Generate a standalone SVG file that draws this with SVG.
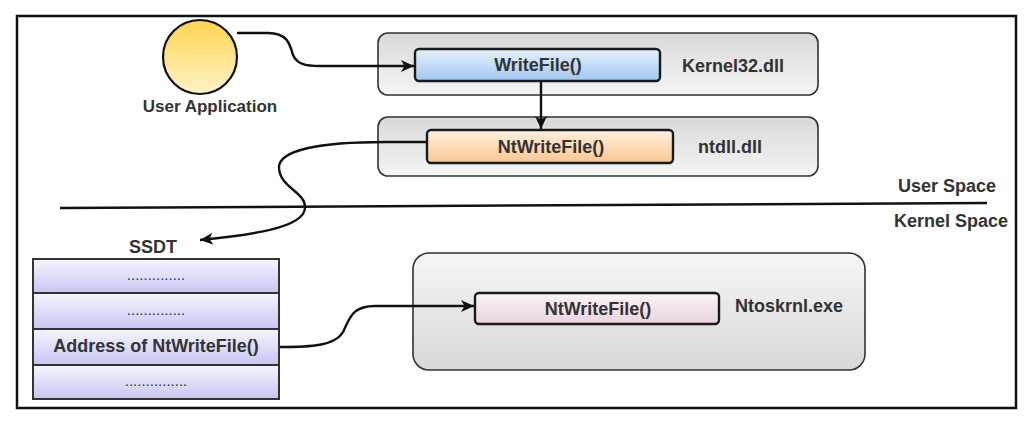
<svg xmlns="http://www.w3.org/2000/svg" width="1032" height="424" viewBox="0 0 1032 424">
<defs>
<style>
.t{font-family:"Liberation Sans",Arial,sans-serif;font-weight:bold;font-size:18px;fill:#333}
.m{text-anchor:middle}
.cont{stroke:#333;stroke-width:1.6}
.up{fill:url(#gGreyUp)}
.down{fill:url(#gGreyDown)}
.box{stroke:#1a1a1a;stroke-width:2.4}
.row{stroke:#333;stroke-width:2;fill:url(#gLav)}
.dots{font-family:"Liberation Sans",Arial,sans-serif;font-size:15px;fill:#333;text-anchor:middle}
.conn{fill:none;stroke:#111;stroke-width:2.4}
</style>
<linearGradient id="gGreyUp" x1="0" y1="0" x2="0" y2="1"><stop offset="0" stop-color="#d9d9d9"/><stop offset="1" stop-color="#f5f5f5"/></linearGradient>
<linearGradient id="gGreyDown" x1="0" y1="0" x2="0" y2="1"><stop offset="0" stop-color="#f6f6f6"/><stop offset="1" stop-color="#d8d8d8"/></linearGradient>
<linearGradient id="gBlue" x1="0" y1="0" x2="0" y2="1"><stop offset="0" stop-color="#e8f1fc"/><stop offset="1" stop-color="#9fc6f0"/></linearGradient>
<linearGradient id="gOrange" x1="0" y1="0" x2="0" y2="1"><stop offset="0" stop-color="#fff0e2"/><stop offset="1" stop-color="#fbc690"/></linearGradient>
<linearGradient id="gPink" x1="0" y1="0" x2="0" y2="1"><stop offset="0" stop-color="#fbf3f7"/><stop offset="1" stop-color="#e9d3df"/></linearGradient>
<linearGradient id="gLav" x1="0" y1="0" x2="0" y2="1"><stop offset="0" stop-color="#f6f6ff"/><stop offset="1" stop-color="#c6c6f2"/></linearGradient>
<linearGradient id="gYellow" x1="0" y1="0" x2="0" y2="1"><stop offset="0" stop-color="#ffd54e"/><stop offset="1" stop-color="#fff3c8"/></linearGradient>
<marker id="arr" markerUnits="userSpaceOnUse" markerWidth="14" markerHeight="12" refX="13" refY="6" orient="auto">
<path d="M0,0 L13,6 L0,12 L3.5,6 z" fill="#111"/>
</marker>
</defs>
<rect x="17" y="16" width="999" height="392" fill="#fff" stroke="#111" stroke-width="2.5"/>

<g id="user-app">
<circle cx="200" cy="57" r="37" fill="url(#gYellow)" stroke="#111" stroke-width="2.2"/>
<text class="t m" x="210" y="112" style="font-size:17px">User Application</text>
</g>

<g id="kernel32">
<rect class="cont up" x="378" y="33" width="440" height="62" rx="10"/>
<rect class="box" x="415" y="49" width="245" height="32" rx="4" fill="url(#gBlue)"/>
<text class="t m" x="538" y="71">WriteFile()</text>
<text class="t" x="682" y="72">Kernel32.dll</text>
</g>

<g id="ntdll">
<rect class="cont up" x="378" y="117" width="440" height="59" rx="10"/>
<rect class="box" x="427" y="130" width="246" height="33" rx="4" fill="url(#gOrange)"/>
<text class="t m" x="551" y="153">NtWriteFile()</text>
<text class="t" x="698" y="153">ntdll.dll</text>
</g>

<g id="boundary">
<line x1="60" y1="208" x2="987" y2="203" stroke="#111" stroke-width="2.5"/>
<text class="t" x="898" y="192">User Space</text>
<text class="t" x="894" y="227">Kernel Space</text>
</g>

<g id="ssdt">
<text class="t m" x="153" y="253">SSDT</text>
<rect class="row" x="33" y="259" width="246" height="34"/>
<rect class="row" x="33" y="293" width="246" height="36"/>
<rect class="row" x="33" y="329" width="246" height="36"/>
<rect class="row" x="33" y="365" width="246" height="34"/>
<text class="dots" x="156" y="280">..............</text>
<text class="dots" x="156" y="315">..............</text>
<text class="t m" x="156" y="352">Address of NtWriteFile()</text>
<text class="dots" x="156" y="386">...............</text>
</g>

<g id="ntoskrnl">
<rect class="cont down" x="413" y="253" width="452" height="117" rx="16"/>
<rect class="box" x="475" y="293" width="244" height="31" rx="4" fill="url(#gPink)"/>
<text class="t m" x="598" y="315">NtWriteFile()</text>
<text class="t" x="735" y="312">Ntoskrnl.exe</text>
</g>

<g id="connectors">
<path class="conn" d="M237 33 H268 C288 33 290 45 293 55 C297 64 305 66 320 66 H414" marker-end="url(#arr)"/>
<path class="conn" d="M541 81 V129" marker-end="url(#arr)"/>
<path class="conn" d="M427 142 H385 C320 142 278 150 279 168 C280 188 306 192 305 208 C304 228 250 235 200 240" marker-end="url(#arr)"/>
<path class="conn" d="M280 347 C310 347 335 346 343 332 C350 318 352 306 375 306 H474" marker-end="url(#arr)"/>
</g>
</svg>
